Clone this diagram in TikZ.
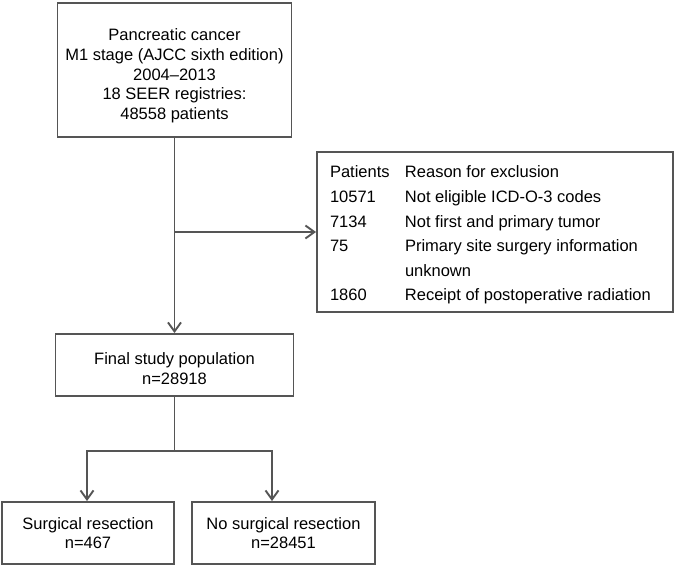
\documentclass[tikz,border=0pt]{standalone}
\usepackage{fontspec}
\setmainfont{Liberation Sans}
\usepackage{array}
\usetikzlibrary{arrows.meta}
\definecolor{linegray}{HTML}{555555}
\begin{document}
\begin{tikzpicture}[x=1pt,y=-1pt,
  box/.style={draw=linegray, line width=1.9pt, align=center, inner sep=0pt,
    font=\fontsize{16.5}{19.7}\selectfont, text=black},
  conn/.style={draw=linegray, line width=1.9pt},
  arr/.style={conn, -{Straight Barb[length=9pt,width=13pt,line width=1.9pt]}}]
\useasboundingbox (0,0) rectangle (675,567);

\node[box, minimum width=234pt, minimum height=134pt] (top) at (174.5,70)
  {\rule{0pt}{24pt}Pancreatic cancer\\M1 stage (AJCC sixth edition)\\2004--2013\\18 SEER registries:\\48558 patients};

\node[box, minimum width=356pt, minimum height=160pt,
  font=\fontsize{16.5}{24.6}\selectfont] (excl) at (495,232)
  {\begin{tabular}{@{}p{75pt}@{}>{\raggedright\arraybackslash}p{255pt}@{}}
   \rule{0pt}{22pt}Patients & Reason for exclusion\\
   10571 & Not eligible ICD-O-3 codes\\
   7134 & Not first and primary tumor\\
   75 & Primary site surgery information unknown\\
   1860 & Receipt of postoperative radiation
   \end{tabular}};

\node[box, minimum width=238pt, minimum height=62pt] (final) at (174.5,365)
  {\rule{0pt}{19pt}Final study population\\n=28918};

\node[box, minimum width=172pt, minimum height=62pt] (sr) at (88,533)
  {Surgical resection\\n=467};

\node[box, minimum width=183pt, minimum height=62pt] (nsr) at (283.5,533)
  {No surgical resection\\n=28451};

\coordinate (j1) at (174.5,232);
\coordinate (j2) at (174.5,451);

\draw[arr] (top.south) -- (final.north);
\draw[arr] (j1) -- (j1 -| excl.west);
\draw[conn] (final.south) -- (j2);
\draw[arr] (j2) -| ([xshift=-1pt]sr.north);
\draw[arr] (j2) -| ([xshift=-11.5pt]nsr.north);
\end{tikzpicture}
\end{document}
